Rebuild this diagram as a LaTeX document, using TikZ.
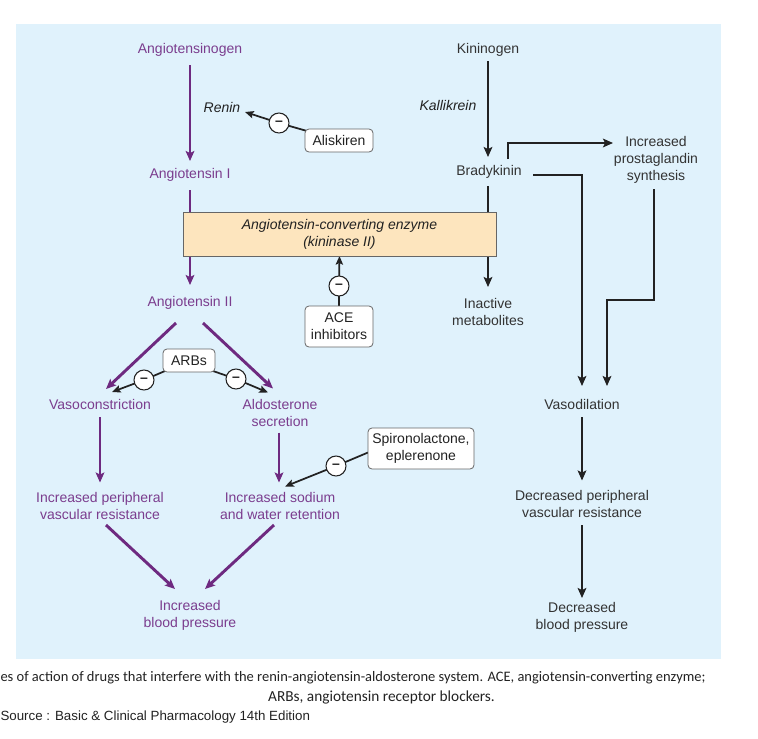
\documentclass[tikz,border=0pt]{standalone}
\usepackage{fontspec}
\setmainfont{Liberation Sans}
\newfontfamily\capfont{Carlito}
\usetikzlibrary{arrows.meta,calc}
\pgfdeclarelayer{bg}
\pgfdeclarelayer{lines}
\pgfsetlayers{bg,lines,main}
\definecolor{bgblue}{HTML}{E0F2FC}
\definecolor{purp}{HTML}{6E2A80}
\definecolor{purptext}{HTML}{7B3D8E}
\definecolor{dark}{HTML}{222222}
\definecolor{peach}{HTML}{FDE5BE}
\definecolor{txtdark}{HTML}{333333}
\definecolor{boxline}{HTML}{666666}
\begin{document}
\begin{tikzpicture}[x=0.75pt,y=-0.75pt,
  every node/.style={font=\fontsize{10.5}{12.75}\selectfont, align=center, inner sep=0pt, outer sep=0pt},
  ptxt/.style={text=purptext},
  ktxt/.style={text=txtdark},
  parrow/.style={draw=purp, line width=2.2pt, -{Stealth[length=7.5pt,width=6.5pt,inset=1.5pt]}},
  karrow/.style={draw=dark, line width=1.8pt, -{Stealth[length=7.5pt,width=6.5pt,inset=1.5pt]}},
  iarrow/.style={draw=dark, line width=1.3pt, -{Stealth[length=6.5pt,width=5.5pt,inset=1.2pt]}},
  minus/.style={circle, draw=dark, line width=0.8pt, fill=white, minimum size=15pt, text=dark, font=\fontsize{10.5}{12}\selectfont\bfseries},
  drug/.style={draw=boxline, line width=0.6pt, fill=white, rounded corners=3pt, text=dark},
  acebox/.style={draw=boxline, line width=0.6pt, fill=peach, minimum width=234.75pt, minimum height=33pt, text=dark, font=\fontsize{10.5}{12.75}\selectfont\itshape}
]
\useasboundingbox (0,0) rectangle (758,739);
\begin{pgfonlayer}{bg}
\fill[bgblue] (16,24) rectangle (721,659);
\end{pgfonlayer}

% left column
\node[ptxt] (agen) at (190,50) {Angiotensinogen};
\node[text=dark, font=\fontsize{10.5}{12.75}\selectfont\itshape] (renin) at (222,107) {Renin};
\node[drug, minimum width=51pt, minimum height=17.25pt] (alisk) at (339,140.5) {Aliskiren};
\node[ptxt] (a1) at (190,175) {Angiotensin I};
\node[acebox] (ace) at (339.5,234) {Angiotensin-converting enzyme\\(kininase II)};
\node[ptxt] (aII) at (190,303) {Angiotensin II};
\node[drug, minimum width=51pt, minimum height=30.75pt] (acei) at (339,326.5) {ACE\\inhibitors};
\node[drug, minimum width=39pt, minimum height=17.25pt] (arbs) at (189,360.5) {ARBs};
\node[ptxt] (vasoc) at (100,404) {Vasoconstriction};
\node[ptxt] (aldo) at (280,412.5) {Aldosterone\\secretion};
\node[drug, minimum width=79.5pt, minimum height=30.75pt] (spiro) at (421,448.5) {Spironolactone,\\eplerenone};
\node[ptxt] (ipvr) at (100,505.5) {Increased peripheral\\vascular resistance};
\node[ptxt] (sodium) at (280,505.5) {Increased sodium\\and water retention};
\node[ptxt] (ibp) at (190,615) {Increased\\blood pressure};

% right column
\node[ktxt] (kin) at (488,50) {Kininogen};
\node[text=dark, font=\fontsize{10.5}{12.75}\selectfont\itshape] (kall) at (448,105) {Kallikrein};
\node[ktxt] (brady) at (489,172) {Bradykinin};
\node[ktxt] (prost) at (656,160) {Increased\\prostaglandin\\synthesis};
\node[ktxt] (inact) at (488,312) {Inactive\\metabolites};
\node[ktxt] (vasod) at (582,404) {Vasodilation};
\node[ktxt] (dpvr) at (582,503.5) {Decreased peripheral\\vascular resistance};
\node[ktxt] (dbp) at (582,617.5) {Decreased\\blood pressure};

% minus circles
\node[minus] (mA) at (279,123) {–};
\node[minus] (mACE) at (339,286) {–};
\node[minus] (mL) at (144,380) {–};
\node[minus] (mR) at (236,379) {–};
\node[minus] (mS) at (336,466) {–};

% caption
\node[font=\capfont\fontsize{10.87}{14}\selectfont, text=dark, anchor=west] (cap1) at (0.5,678) {es of action of drugs that interfere with the renin-angiotensin-aldosterone system. ACE, angiotensin-converting enzyme;};
\node[font=\capfont\fontsize{11.5}{14}\selectfont, text=dark] (cap2) at (381.5,697) {ARBs, angiotensin receptor blockers.};
\node[font=\fontsize{10}{12}\selectfont, text=dark, anchor=west] (src) at (0.5,717) {Source : Basic \& Clinical Pharmacology 14th Edition};

\begin{pgfonlayer}{lines}
% purple pathway
\draw[parrow] ($(agen)+(0,15)$) -- ($(a1)+(0,-14)$);
\draw[parrow] ($(a1)+(0,15)$) -- ($(aII)+(0,-18)$);
\draw[parrow] ($(aII)+(-14,20)$) -- ($(vasoc)+(6,-15)$);
\draw[parrow] ($(aII)+(13,20)$) -- ($(aldo)+(-7,-24)$);
\draw[parrow] ($(vasoc)+(0,13)$) -- ($(ipvr)+(0,-23)$);
\draw[parrow] ($(aldo)+(-1,20)$) -- ($(sodium)+(-1,-23)$);
\draw[parrow] ($(ipvr)+(6,19.5)$) -- ($(ibp)+(-15,-26)$);
\draw[parrow] ($(sodium)+(-6,19.5)$) -- ($(ibp)+(15,-26)$);
% inhibitors
\draw[iarrow] ($(alisk.north west)+(2,2)$) -- (mA) -- ($(renin)+(23,5)$);
\draw[iarrow] (acei.north) -- (mACE) -- (ace.south);
\draw[iarrow] ($(arbs.south west)+(2,-1)$) -- (mL) -- ($(vasoc)+(12,-12)$);
\draw[iarrow] ($(arbs.south east)+(-2,-1)$) -- (mR) -- ($(aldo)+(-12,-20)$);
\draw[iarrow] ($(spiro.west)+(0,4)$) -- (mS) -- ($(sodium)+(5,-19)$);
% kinin pathway
\draw[karrow] ($(kin)+(0,11)$) -- ($(brady)+(-1,-15)$);
\draw[karrow] ($(brady)+(-1,14)$) -- ($(inact)+(0,-25)$);
\draw[karrow] ($(brady)+(19,-13)$) |- ($(prost)+(-43,-17)$);
\draw[karrow] ($(brady)+(44,3)$) -| ($(vasod)+(0,-18)$);
\draw[karrow] ($(prost)+(-2,29)$) -- ($(prost)+(-2,140)$) -| ($(vasod)+(25,-18)$);
\draw[karrow] ($(vasod)+(0,13)$) -- ($(dpvr)+(0,-23)$);
\draw[karrow] ($(dpvr)+(0,21.5)$) -- ($(dbp)+(0,-19.5)$);
\end{pgfonlayer}
\end{tikzpicture}
\end{document}
